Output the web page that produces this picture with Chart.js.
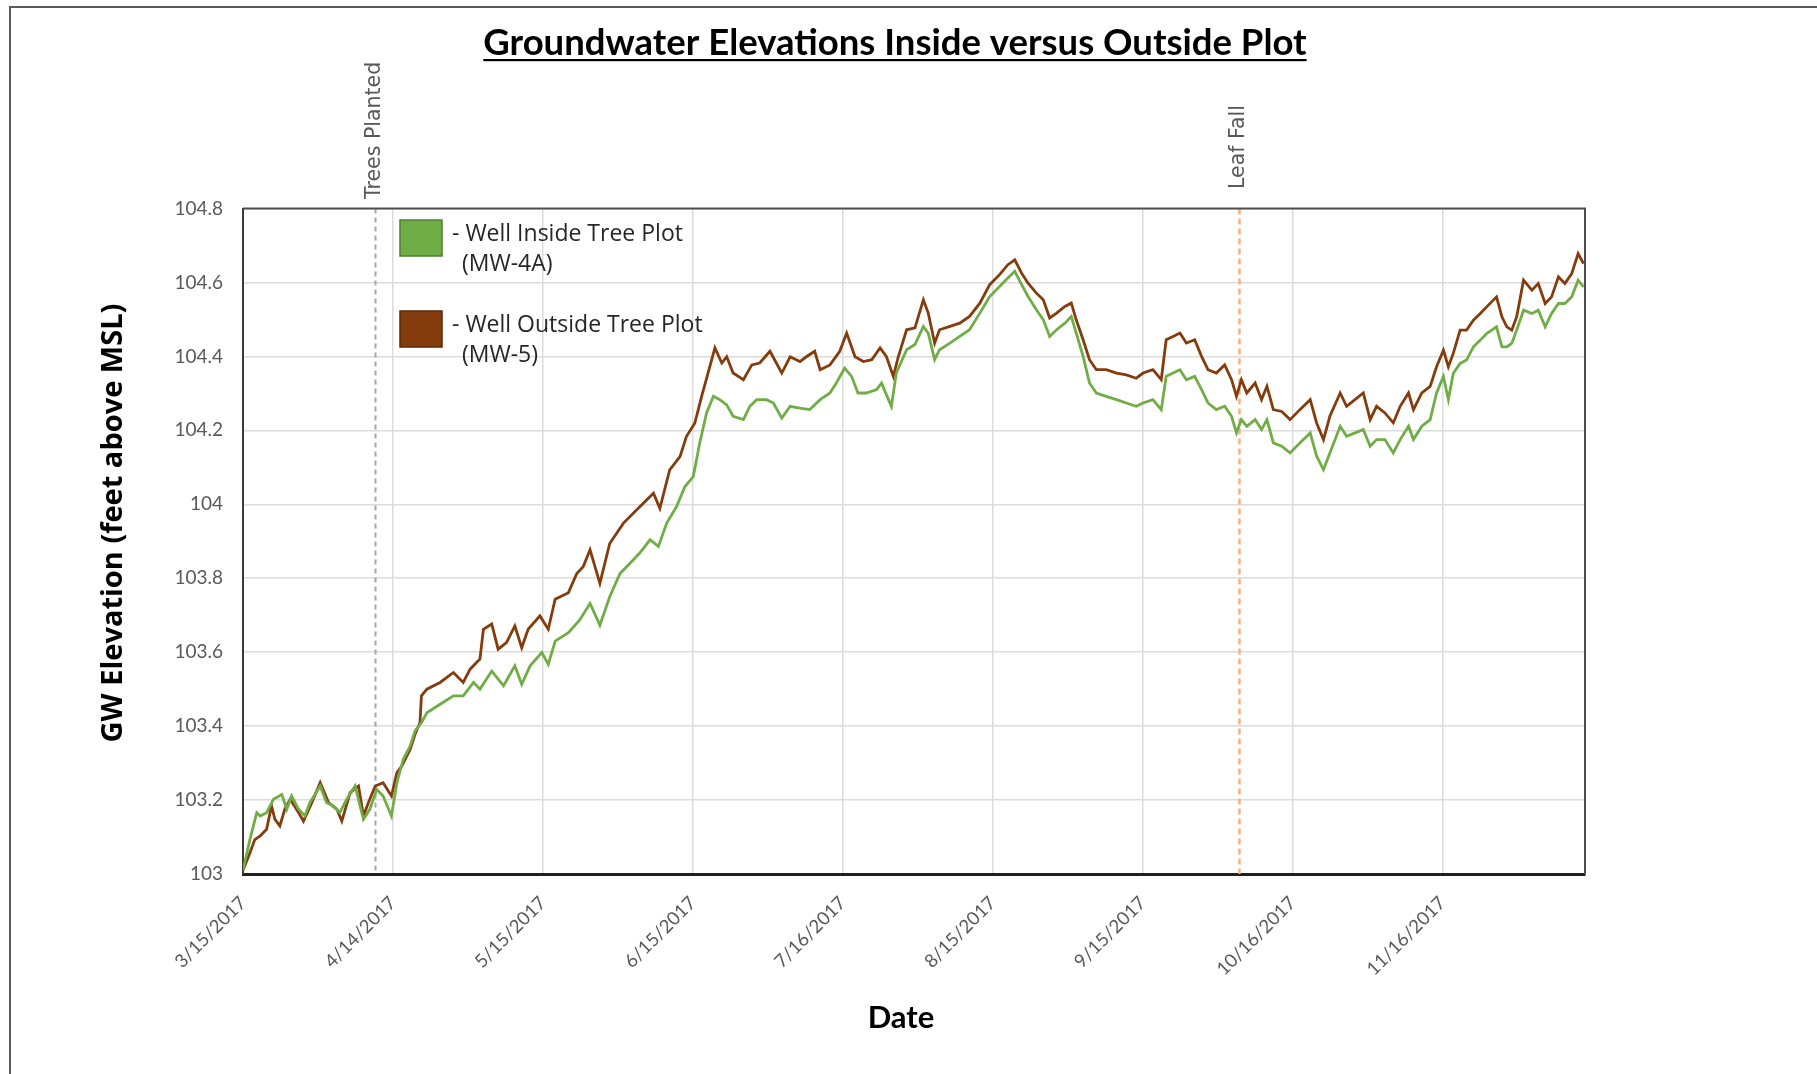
<!DOCTYPE html>
<html>
<head>
<meta charset="utf-8">
<script src="https://cdn.jsdelivr.net/npm/chart.js@4.4.1/dist/chart.umd.min.js"></script>
<style>
  html, body { margin: 0; padding: 0; background: #ffffff; }
  #wrap { width: 1817px; height: 1074px; position: relative; }
  canvas { display: block; }
</style>
</head>
<body>
<div id="wrap"><canvas id="c" width="1817" height="1074"></canvas></div>
<script>
// ---------------- data (days after 3/15/2017, elevation in ft above MSL) ----------------
const chartTitle = 'Groundwater Elevations Inside versus Outside Plot';
const xAxisTitle = 'Date';
const yAxisTitle = 'GW Elevation (feet above MSL)';

const xTickDays = [0, 30.5, 61, 91.5, 122, 152.5, 183, 213.5, 244];
const xTickLabels = ['3/15/2017', '4/14/2017', '5/15/2017', '6/15/2017', '7/16/2017',
                     '8/15/2017', '9/15/2017', '10/16/2017', '11/16/2017'];
const xMinDay = 0;
const xMaxDay = 273;

const yTickValues = [103, 103.2, 103.4, 103.6, 103.8, 104, 104.2, 104.4, 104.6, 104.8];
const yTickLabels = ['103', '103.2', '103.4', '103.6', '103.8', '104', '104.2', '104.4', '104.6', '104.8'];

const eventDays = [26.8, 202.6];
const eventLabels = ['Trees Planted', 'Leaf Fall'];

const seriesNames = ['Well Inside Tree Plot (MW-4A)', 'Well Outside Tree Plot (MW-5)'];
const legendLine1 = ['- Well Inside Tree Plot', '- Well Outside Tree Plot'];
const legendLine2 = ['(MW-4A)', '(MW-5)'];

const greenDays = [0, 1.4, 2.8, 3.5, 4.8, 6.2, 7.9, 8.9, 9.9, 11.3, 12.6, 13.6, 15.7, 17.0, 18.4, 19.7,
  21.1, 22.8, 24.5, 25.8, 27.2, 28.5, 30.2, 31.3, 32.6, 34.0, 35.0, 36.3, 37.4, 40.1, 42.8, 44.8,
  46.9, 48.2, 50.6, 53.0, 55.3, 56.7, 58.4, 60.8, 62.1, 63.5, 66.2, 68.5, 70.6, 72.6, 74.6, 76.7,
  78.7, 80.7, 82.8, 84.5, 86.2, 88.2, 89.9, 91.6, 92.9, 94.3, 95.7, 97.0, 98.4, 99.7, 101.8, 103.1,
  104.5, 106.5, 107.9, 109.6, 111.3, 113.3, 115.3, 117.4, 119.4, 120.7, 122.4, 123.8, 125.1, 126.8,
  128.9, 129.9, 130.9, 131.9, 132.9, 135.0, 136.7, 138.4, 139.4, 140.7, 141.7, 143.8, 145.8, 147.8,
  149.9, 151.9, 153.9, 155.6, 157.0, 158.4, 159.7, 161.4, 162.8, 164.1, 165.5, 167.2, 168.5, 169.5,
  170.9, 172.2, 173.6, 175.6, 177.7, 179.7, 181.7, 183.1, 185.1, 186.8, 187.8, 189.2, 190.6, 191.9,
  193.6, 195.0, 196.3, 198.0, 199.7, 201.1, 202.1, 203.1, 204.2, 205.9, 207.2, 208.3, 209.6, 211.3,
  213.0, 215.0, 217.1, 218.4, 219.8, 221.1, 223.2, 224.5, 226.2, 227.9, 229.3, 230.6, 232.3, 234.0,
  235.4, 237.1, 238.1, 239.8, 241.5, 242.8, 244.2, 245.2, 246.2, 247.6, 248.9, 250.3, 251.7, 253.0,
  255.0, 256.1, 257.1, 258.1, 259.1, 260.5, 262.2, 263.5, 264.9, 266.2, 267.6, 268.9, 270.3, 271.6, 272.7];
const greenLevels = [103.01, 103.093, 103.166, 103.157, 103.166, 103.202, 103.215, 103.175, 103.211, 103.175,
  103.157, 103.193, 103.238, 103.193, 103.184, 103.166, 103.202, 103.238, 103.148, 103.175, 103.229,
  103.211, 103.157, 103.247, 103.31, 103.346, 103.387, 103.409, 103.436, 103.459, 103.482, 103.482,
  103.518, 103.5, 103.549, 103.509, 103.563, 103.513, 103.563, 103.599, 103.567, 103.63, 103.653,
  103.687, 103.732, 103.673, 103.75, 103.813, 103.84, 103.868, 103.904, 103.886, 103.949, 103.994,
  104.048, 104.075, 104.165, 104.247, 104.292, 104.283, 104.269, 104.238, 104.229, 104.265, 104.283,
  104.283, 104.274, 104.233, 104.265, 104.26, 104.256, 104.283, 104.301, 104.328, 104.368, 104.346,
  104.301, 104.301, 104.31, 104.328, 104.296, 104.265, 104.355, 104.418, 104.432, 104.481, 104.463,
  104.391, 104.418, 104.436, 104.454, 104.472, 104.517, 104.562, 104.589, 104.612, 104.63, 104.594,
  104.562, 104.526, 104.499, 104.454, 104.472, 104.49, 104.508, 104.463, 104.4, 104.328, 104.301,
  104.292, 104.283, 104.274, 104.265, 104.274, 104.283, 104.256, 104.346, 104.355, 104.364, 104.337,
  104.346, 104.31, 104.274, 104.256, 104.265, 104.238, 104.193, 104.229, 104.211, 104.229, 104.202,
  104.229, 104.166, 104.157, 104.139, 104.166, 104.193, 104.13, 104.094, 104.139, 104.211, 104.184,
  104.193, 104.202, 104.157, 104.175, 104.175, 104.139, 104.175, 104.211, 104.175, 104.211, 104.229,
  104.301, 104.346, 104.283, 104.354, 104.381, 104.39, 104.426, 104.444, 104.462, 104.48, 104.426,
  104.426, 104.435, 104.471, 104.525, 104.516, 104.525, 104.48, 104.516, 104.543, 104.543, 104.561,
  104.606, 104.588];

const brownDays = [0, 1.4, 2.4, 3.5, 4.8, 5.8, 6.5, 7.5, 8.5, 9.6, 11.3, 12.3, 14.0, 15.7, 17.4, 19.1,
  20.1, 21.8, 23.5, 24.5, 25.5, 26.9, 28.5, 30.2, 31.3, 32.3, 34.0, 35.0, 36.0, 36.3, 37.4, 40.1,
  42.8, 44.8, 46.2, 47.5, 48.2, 48.9, 50.6, 51.9, 53.6, 55.3, 56.7, 58.0, 60.4, 62.1, 63.5, 66.2,
  67.9, 69.2, 70.6, 72.6, 74.6, 77.4, 80.1, 83.5, 84.8, 86.8, 88.9, 90.2, 91.9, 93.3, 94.6, 96.0,
  97.4, 98.4, 99.7, 101.8, 103.5, 105.1, 107.2, 109.6, 111.3, 113.3, 114.6, 116.3, 117.4, 119.4,
  121.4, 122.8, 124.5, 126.2, 127.9, 129.6, 130.9, 132.3, 133.3, 135.0, 136.7, 138.4, 139.4, 140.7,
  141.7, 143.8, 145.8, 147.8, 149.9, 151.9, 153.9, 155.6, 157.0, 158.4, 159.7, 161.4, 162.8, 164.1,
  165.5, 167.2, 168.5, 169.5, 170.9, 172.2, 173.6, 175.6, 177.7, 179.7, 181.7, 183.1, 185.1, 186.8,
  187.8, 189.2, 190.6, 191.9, 193.6, 195.0, 196.3, 198.0, 199.7, 201.1, 202.1, 203.1, 204.2, 205.9,
  207.2, 208.3, 209.6, 211.3, 213.0, 215.0, 217.1, 218.4, 219.8, 221.1, 223.2, 224.5, 226.2, 227.9,
  229.3, 230.6, 232.3, 234.0, 235.4, 237.1, 238.1, 239.8, 241.5, 242.8, 244.2, 245.2, 246.2, 247.6,
  248.9, 250.3, 251.7, 253.0, 255.0, 256.1, 257.1, 258.1, 259.1, 260.5, 262.2, 263.5, 264.9, 266.2,
  267.6, 268.9, 270.3, 271.6, 272.7];
const brownLevels = [103.01, 103.057, 103.093, 103.103, 103.121, 103.184, 103.148, 103.13, 103.175, 103.202,
  103.166, 103.143, 103.193, 103.247, 103.193, 103.175, 103.143, 103.22, 103.238, 103.157, 103.193,
  103.238, 103.247, 103.211, 103.274, 103.292, 103.337, 103.378, 103.41, 103.482, 103.5, 103.518,
  103.545, 103.518, 103.554, 103.572, 103.581, 103.662, 103.676, 103.608, 103.626, 103.671, 103.612,
  103.662, 103.698, 103.662, 103.743, 103.761, 103.813, 103.831, 103.877, 103.786, 103.894, 103.949,
  103.985, 104.03, 103.989, 104.093, 104.129, 104.183, 104.219, 104.292, 104.355, 104.423, 104.382,
  104.399, 104.355, 104.337, 104.377, 104.382, 104.414, 104.355, 104.399, 104.386, 104.399, 104.414,
  104.364, 104.377, 104.414, 104.463, 104.399, 104.386, 104.391, 104.423, 104.399, 104.346, 104.399,
  104.472, 104.477, 104.553, 104.517, 104.436, 104.472, 104.481, 104.49, 104.508, 104.544, 104.594,
  104.621, 104.648, 104.661, 104.625, 104.598, 104.571, 104.553, 104.504, 104.517, 104.535, 104.544,
  104.499, 104.445, 104.391, 104.364, 104.364, 104.355, 104.35, 104.341, 104.355, 104.364, 104.337,
  104.445, 104.454, 104.463, 104.436, 104.445, 104.4, 104.364, 104.355, 104.377, 104.337, 104.292,
  104.337, 104.301, 104.328, 104.283, 104.319, 104.256, 104.251, 104.229, 104.256, 104.283, 104.22,
  104.175, 104.238, 104.301, 104.265, 104.283, 104.301, 104.229, 104.265, 104.247, 104.22, 104.265,
  104.301, 104.256, 104.301, 104.319, 104.372, 104.417, 104.372, 104.408, 104.471, 104.471, 104.498,
  104.516, 104.534, 104.561, 104.507, 104.48, 104.471, 104.507, 104.606, 104.579, 104.597, 104.543,
  104.561, 104.615, 104.597, 104.624, 104.678, 104.651];

// ---------------- styles ----------------
const GREEN = '#70AD47';
const BROWN = '#843C0C';
const GRID = '#dcdcdc';
const TICK_GREY = '#595959';

function toPoints(days, levels) {
  return days.map((d, i) => ({ x: d, y: levels[i] }));
}

const decorPlugin = {
  id: 'decor',
  beforeDatasetsDraw(chart) {
    const ctx = chart.ctx;
    const a = chart.chartArea;
    const xs = chart.scales.x;
    ctx.save();
    const lineColors = ['#a6a6a6', '#f4b183'];
    eventDays.forEach((d, i) => {
      const px = Math.round(xs.getPixelForValue(d)) + 0.5;
      ctx.strokeStyle = lineColors[i];
      ctx.lineWidth = i === 0 ? 2 : 2.5;
      ctx.setLineDash(i === 0 ? [5, 4] : [6, 4]);
      ctx.beginPath();
      ctx.moveTo(px, a.top);
      ctx.lineTo(px, a.bottom);
      ctx.stroke();
    });
    ctx.restore();
  },
  afterDraw(chart) {
    const ctx = chart.ctx;
    const a = chart.chartArea;
    const xs = chart.scales.x;
    ctx.save();
    // outer frame (cropped screenshot border)
    ctx.strokeStyle = '#5a5a5a';
    ctx.lineWidth = 2;
    ctx.beginPath();
    ctx.moveTo(10, 1074);
    ctx.lineTo(10, 7);
    ctx.lineTo(1817, 7);
    ctx.stroke();

    // plot area frame: top + right
    ctx.strokeStyle = '#4d4d4d';
    ctx.lineWidth = 2;
    ctx.beginPath();
    ctx.moveTo(a.left, a.top);
    ctx.lineTo(a.right, a.top);
    ctx.lineTo(a.right, a.bottom);
    ctx.stroke();

    // event labels (rotated)
    ctx.fillStyle = '#595959';
    ctx.font = '20.5px "DejaVu Sans"';
    ctx.textAlign = 'left';
    ctx.textBaseline = 'middle';
    const labelBottoms = [199, 189];
    eventDays.forEach((d, i) => {
      const px = xs.getPixelForValue(d);
      ctx.save();
      ctx.translate(px, labelBottoms[i]);
      ctx.rotate(-Math.PI / 2);
      ctx.fillText(eventLabels[i], 0, 0);
      ctx.restore();
    });

    // legend (text box style)
    const colors = [GREEN, BROWN];
    const strokes = ['#4f7f30', '#5a2808'];
    const boxTops = [220, 311];
    chart.data.datasets.forEach((ds, i) => {
      ctx.fillStyle = colors[i];
      ctx.fillRect(400, boxTops[i], 42, 36);
      ctx.strokeStyle = strokes[i];
      ctx.lineWidth = 1.5;
      ctx.strokeRect(400, boxTops[i], 42, 36);
      ctx.fillStyle = '#262626';
      ctx.font = '23px "Open Sans"';
      ctx.textAlign = 'left';
      ctx.textBaseline = 'alphabetic';
      ctx.fillText(legendLine1[i], 452, boxTops[i] + 21);
      ctx.fillText(legendLine2[i], 462, boxTops[i] + 51);
    });

    // axis titles
    ctx.fillStyle = '#000000';
    ctx.font = 'bold 31px Lato';
    ctx.textAlign = 'center';
    ctx.textBaseline = 'alphabetic';
    ctx.fillText(xAxisTitle, 901, 1028);

    ctx.save();
    ctx.translate(114, 523);
    ctx.rotate(-Math.PI / 2);
    ctx.font = 'bold 29px "Open Sans"';
    ctx.textBaseline = 'middle';
    ctx.fillText(yAxisTitle, 0, 0);
    ctx.restore();

    // title underline
    const tb = chart.titleBlock;
    if (tb) {
      ctx.font = 'bold 36.5px Lato';
      const w = ctx.measureText(chartTitle).width;
      const cx = (tb.left + tb.right) / 2;
      ctx.fillStyle = '#000000';
      ctx.fillRect(cx - w / 2, 59, w, 2.2);
    }
    ctx.restore();
  }
};

const ctx = document.getElementById('c').getContext('2d');
new Chart(ctx, {
  type: 'line',
  data: {
    datasets: [
      {
        label: seriesNames[0],
        data: toPoints(greenDays, greenLevels),
        borderColor: GREEN,
        backgroundColor: GREEN,
        borderWidth: 2.8,
        pointRadius: 0,
        tension: 0,
        fill: false
      },
      {
        label: seriesNames[1],
        data: toPoints(brownDays, brownLevels),
        borderColor: BROWN,
        backgroundColor: BROWN,
        borderWidth: 2.8,
        pointRadius: 0,
        tension: 0,
        fill: false
      }
    ]
  },
  options: {
    responsive: false,
    animation: false,
    events: [],
    layout: { padding: { left: 205, right: 232, top: 0, bottom: 0 } },
    plugins: {
      legend: { display: false },
      tooltip: { enabled: false },
      title: {
        display: true,
        text: chartTitle,
        color: '#000000',
        font: { family: 'Lato', size: 36.5, weight: 'bold', lineHeight: 1.2 },
        padding: { top: 21, bottom: 143.7 }
      }
    },
    scales: {
      x: {
        type: 'linear',
        min: xMinDay,
        max: xMaxDay,
        afterBuildTicks: (s) => { s.ticks = xTickDays.map(v => ({ value: v })); },
        afterFit: (s) => { s.height = 200; },
        ticks: {
          autoSkip: false,
          minRotation: 45,
          maxRotation: 45,
          padding: 18,
          color: TICK_GREY,
          font: { family: 'Lato', size: 18.5 },
          callback: (v, i) => xTickLabels[i]
        },
        grid: { color: GRID, lineWidth: 1.5, drawTicks: false },
        border: { display: true, color: '#1f1f1f', width: 3 }
      },
      y: {
        type: 'linear',
        min: 103,
        max: 104.8,
        afterBuildTicks: (s) => { s.ticks = yTickValues.map(v => ({ value: v })); },
        afterFit: (s) => { s.width = 38; s._computeLabelArea = () => null; },
        ticks: {
          autoSkip: false,
          padding: 20,
          color: TICK_GREY,
          font: { family: 'Lato', size: 19 },
          callback: (v, i) => yTickLabels[i]
        },
        grid: { color: GRID, lineWidth: 1.5, drawTicks: false },
        border: { display: true, color: '#3a3a3a', width: 2 }
      }
    }
  },
  plugins: [decorPlugin]
});
</script>
</body>
</html>
